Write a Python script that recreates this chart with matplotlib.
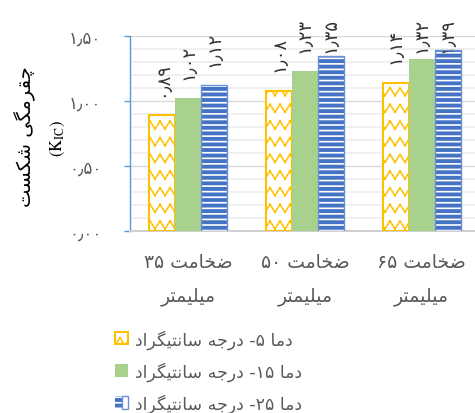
import warnings
warnings.filterwarnings("ignore")
import numpy as np
import matplotlib
matplotlib.use("Agg")
import matplotlib.pyplot as plt
import matplotlib.hatch as mhatch
from matplotlib.path import Path
from matplotlib.patches import Patch
from matplotlib.legend_handler import HandlerTuple
from matplotlib.ticker import MultipleLocator

# ---------------- data ----------------
category_line1 = ["ضخامت ۳۵", "ضخامت ۵۰", "ضخامت ۶۵"]
category_line2 = ["میلیمتر", "میلیمتر", "میلیمتر"]
series_names = ["دما ۵- درجه سانتیگراد", "دما ۱۵- درجه سانتیگراد", "دما ۲۵- درجه سانتیگراد"]
temp5 = [0.89, 1.08, 1.14]
temp15 = [1.02, 1.23, 1.32]
temp25 = [1.12, 1.35, 1.39]
y_ticks = [0.0, 0.5, 1.0, 1.5]
y_title = "چقرمگی شکست"
y_title2 = r"$(\mathrm{K_{IC}})$"

# ---------------- Persian text shaping (visual order) ----------------
FORMS = {
    'ا': (0xFE8D, 0xFE8E, None, None),
    'ت': (0xFE95, 0xFE96, 0xFE97, 0xFE98),
    'ج': (0xFE9D, 0xFE9E, 0xFE9F, 0xFEA0),
    'خ': (0xFEA5, 0xFEA6, 0xFEA7, 0xFEA8),
    'د': (0xFEA9, 0xFEAA, None, None),
    'ر': (0xFEAD, 0xFEAE, None, None),
    'س': (0xFEB1, 0xFEB2, 0xFEB3, 0xFEB4),
    'ش': (0xFEB5, 0xFEB6, 0xFEB7, 0xFEB8),
    'ض': (0xFEBD, 0xFEBE, 0xFEBF, 0xFEC0),
    'ق': (0xFED5, 0xFED6, 0xFED7, 0xFED8),
    'ل': (0xFEDD, 0xFEDE, 0xFEDF, 0xFEE0),
    'م': (0xFEE1, 0xFEE2, 0xFEE3, 0xFEE4),
    'ن': (0xFEE5, 0xFEE6, 0xFEE7, 0xFEE8),
    'ه': (0xFEE9, 0xFEEA, 0xFEEB, 0xFEEC),
    'چ': (0xFB7A, 0xFB7B, 0xFB7C, 0xFB7D),
    'ک': (0xFB8E, 0xFB8F, 0xFB90, 0xFB91),
    'گ': (0xFB92, 0xFB93, 0xFB94, 0xFB95),
    'ی': (0xFBFC, 0xFBFD, 0xFBFE, 0xFBFF),
}
DIGITS = set("۰۱۲۳۴۵۶۷۸۹٫")


def shape(text):
    out = []
    n = len(text)
    for i, ch in enumerate(text):
        if ch not in FORMS:
            out.append(ch)
            continue
        f = FORMS[ch]
        prev = text[i - 1] if i > 0 else ''
        nxt = text[i + 1] if i < n - 1 else ''
        jp = prev in FORMS and FORMS[prev][2] is not None
        jn = nxt in FORMS and f[2] is not None
        if jp and jn:
            c = f[3]
        elif jp:
            c = f[1]
        elif jn:
            c = f[2]
        else:
            c = f[0]
        out.append(chr(c))
    # reverse to visual order, keeping digit runs left-to-right
    tokens = []
    for ch in out:
        if ch in DIGITS and tokens and tokens[-1][0] in DIGITS:
            tokens[-1] += ch
        else:
            tokens.append(ch)
    return ''.join(reversed(tokens))


def fa_num(v):
    s = f"{v:.2f}"
    return s.translate(str.maketrans("0123456789.", "۰۱۲۳۴۵۶۷۸۹٫"))


# ---------------- custom dotted zigzag hatch ----------------
class ZigZagHatch(mhatch.HatchPatternBase):
    NPER = 10
    AMP = 0.04
    SUB = 5  # each diagonal split in SUB pieces, even pieces drawn

    def __init__(self, hatch, density):
        self.num_rows = int(hatch.count('z') * density)
        nd = (self.SUB + 1) // 2
        self.num_vertices = self.num_rows * 2 * self.NPER * nd * 2

    def set_vertices_and_codes(self, vertices, codes):
        m = 2 * self.NPER + 1
        xs = np.linspace(0, 1, m)
        off = np.where(np.arange(m) % 2 == 0, self.AMP, -self.AMP)
        k = 0
        for r in range(self.num_rows):
            y0 = (r + 0.5) / self.num_rows
            for j in range(m - 1):
                xa, xb = xs[j], xs[j + 1]
                ya, yb = y0 + off[j], y0 + off[j + 1]
                for s in range(0, self.SUB, 2):
                    t0, t1 = s / self.SUB, (s + 1) / self.SUB
                    vertices[k] = (xa + (xb - xa) * t0, ya + (yb - ya) * t0)
                    vertices[k + 1] = (xa + (xb - xa) * t1, ya + (yb - ya) * t1)
                    codes[k] = Path.MOVETO
                    codes[k + 1] = Path.LINETO
                    k += 2


mhatch._hatch_types.append(ZigZagHatch)

# ---------------- style ----------------
plt.rcParams['font.family'] = ['DejaVu Sans']
plt.rcParams['mathtext.fontset'] = 'stix'
plt.rcParams['hatch.linewidth'] = 1.2

YELLOW = '#FFC000'
GREEN = '#A9D18E'
BLUE = '#4472C4'
BLUE_EDGE = '#6A8FD6'
AXIS_BLUE = '#5B9BD5'
TXT = '#595959'

FIG_W, FIG_H, DPI = 475, 414, 100
fig = plt.figure(figsize=(FIG_W / DPI, FIG_H / DPI), dpi=DPI)
ax = fig.add_axes([130 / FIG_W, 182 / FIG_H, 350 / FIG_W, 195 / FIG_H])

x = np.arange(len(category_line1))
w = 0.222
ax.bar(x - w, temp5, w, facecolor='white', edgecolor=YELLOW, hatch='z',
       linewidth=1.5, zorder=3)
ax.bar(x, temp15, w, color=GREEN, linewidth=0, zorder=3)
ax.bar(x + w, temp25, w, facecolor=BLUE, edgecolor='white', hatch='---',
       linewidth=0, zorder=3)
ax.bar(x + w, temp25, w, fill=False, edgecolor=BLUE_EDGE, linewidth=1.0, zorder=4)

LABEL_OFF = 14
labels = []
for off, vals in zip([-w, 0, w], [temp5, temp15, temp25]):
    for xi, v in zip(x + off, vals):
        a = ax.annotate(fa_num(v), (xi, v), xytext=(0, LABEL_OFF), textcoords='offset points',
                        rotation=90, ha='center', va='bottom', fontsize=13,
                        color='#333333', annotation_clip=False)
        labels.append(a)

ax.set_xlim(-0.5, 2.5)
ax.set_ylim(0, 1.5)
ax.set_yticks(y_ticks)
ax.set_yticklabels([fa_num(t) for t in y_ticks], color=TXT, fontsize=12)
ax.yaxis.set_minor_locator(MultipleLocator(0.1))
ax.tick_params(axis='y', which='major', direction='out', length=4.5, width=1,
               color=AXIS_BLUE, pad=16)
ax.tick_params(axis='y', which='minor', length=0)
ax.set_xticks(x)
ax.set_xticklabels([shape(a) + "\n" + shape(b) for a, b in zip(category_line1, category_line2)],
                   fontsize=13.5, color=TXT, linespacing=1.95)
ax.tick_params(axis='x', length=0, pad=15)

ax.grid(axis='y', which='major', color='#D9D9D9', linewidth=1.0, zorder=0)
ax.grid(axis='y', which='minor', color='#EDEDED', linewidth=1.2, zorder=0)
ax.set_axisbelow(True)
for s in ['top', 'right']:
    ax.spines[s].set_visible(False)
ax.spines['left'].set_color(AXIS_BLUE)
ax.spines['left'].set_linewidth(1.0)
ax.spines['bottom'].set_color('#D0D0D0')
ax.spines['bottom'].set_linewidth(1.5)

fig.text(25 / FIG_W, 1 - 137 / FIG_H, shape(y_title), rotation=90, ha='center', va='center',
         fontsize=14, color='black')
fig.text(58 / FIG_W, 1 - 138 / FIG_H, y_title2, rotation=90, ha='center', va='center',
         fontsize=12, color='black')

h1 = Patch(facecolor='white', edgecolor=YELLOW, hatch='z', linewidth=1.5)
h2 = Patch(facecolor=GREEN, linewidth=0)
h3 = (Patch(facecolor=BLUE, edgecolor='white', hatch='---', linewidth=0),
      Patch(fill=False, edgecolor=BLUE_EDGE, linewidth=1.0))
fig.legend([h1, h2, h3], [shape(s) for s in series_names],
           loc='upper left', bbox_to_anchor=(115 / FIG_W, 1 - 330 / FIG_H),
           frameon=False, borderpad=0, borderaxespad=0, fontsize=12.5,
           labelcolor=TXT, handlelength=0.75, handleheight=0.75,
           handletextpad=0.42, labelspacing=0.72,
           handler_map={tuple: HandlerTuple(ndivide=None, pad=0)})

# keep data labels inside the chart area (as the spreadsheet does)
fig.canvas.draw()
renderer = fig.canvas.get_renderer()
top_limit = FIG_H - 18
for a in labels:
    bb = a.get_window_extent(renderer)
    if bb.y1 > top_limit:
        shift_pt = (bb.y1 - top_limit) * 72 / DPI
        a.xyann = (0, LABEL_OFF - shift_pt)

fig.savefig('out.png', dpi=DPI)
